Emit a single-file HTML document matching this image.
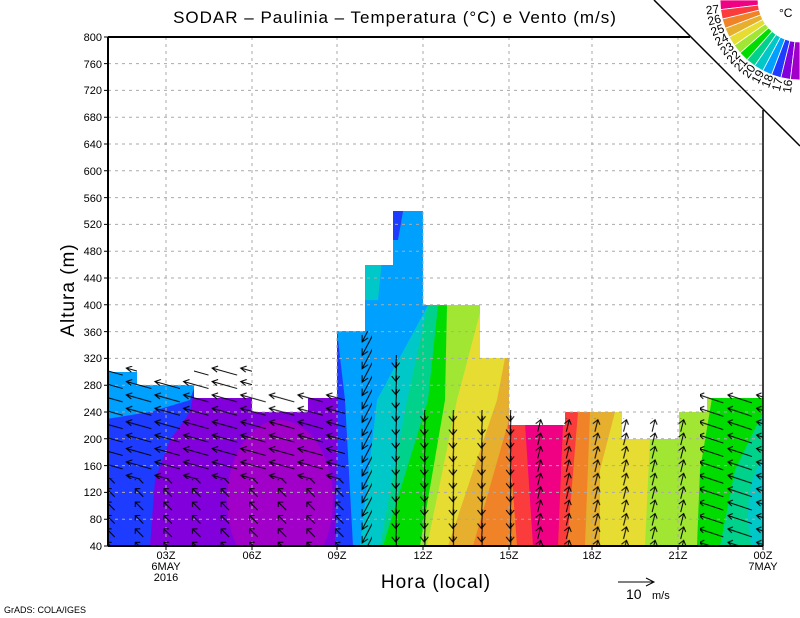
<!DOCTYPE html>
<html><head><meta charset="utf-8"><style>
html,body{margin:0;padding:0;background:#fff;}
svg{display:block;font-family:"Liberation Sans",sans-serif;}
</style></head><body>
<svg width="800" height="618" viewBox="0 0 800 618" xmlns="http://www.w3.org/2000/svg">
<defs>
<clipPath id="cp"><path d="M108,546 L108,372 L137,372 L137,385 L194,385 L194,398 L252,398 L252,412 L308,412 L308,398 L337,398 L337,331 L365,331 L365,265 L393,265 L393,211 L423,211 L423,305 L480,305 L480,358 L509,358 L509,425 L565,425 L565,412 L622,412 L622,439 L679,439 L679,412 L707,412 L707,398 L763,398 L763,546 Z"/></clipPath>
<clipPath id="pc"><rect x="108" y="37" width="655" height="509"/></clipPath>
<pattern id="pL" patternUnits="userSpaceOnUse" x="95.7" y="525.9" width="28.6" height="13.4">
<path d="M27,10 L2,3 M8,1 L2,3 L7,7" stroke="#000" fill="none" stroke-width="1"/></pattern>
<pattern id="pLs" patternUnits="userSpaceOnUse" x="95.7" y="525.9" width="28.6" height="13.4">
<path d="M19,11 L11,3 M11,8 L11,3 L16,3" stroke="#000" fill="none" stroke-width="1"/></pattern>
<pattern id="pDL" patternUnits="userSpaceOnUse" x="95.7" y="525.9" width="28.6" height="13.4">
<g stroke="#000" fill="none" stroke-width="1"><path d="M20,-4 L9,17 M9,10 L9,17 L15,13"/><path d="M20,-17.4 L9,3.6 M9,-3.4 L9,3.6 L15,-0.4"/><path d="M20,9.4 L9,30.4 M9,23.4 L9,30.4 L15,26.4"/></g></pattern>
<pattern id="pD" patternUnits="userSpaceOnUse" x="95.7" y="525.9" width="28.6" height="13.4">
<g stroke="#000" fill="none" stroke-width="1"><path d="M15,-3 L14,16 M10,11 L14,16 L18,11"/><path d="M15,-16.4 L14,2.6 M10,-2.4 L14,2.6 L18,-2.4"/><path d="M15,10.4 L14,29.4 M10,24.4 L14,29.4 L18,24.4"/></g></pattern>
<pattern id="pU" patternUnits="userSpaceOnUse" x="95.7" y="525.9" width="28.6" height="13.4">
<path d="M13,13 L16,1 M11,5 L16,1 L18,6" stroke="#000" fill="none" stroke-width="1"/></pattern>
<pattern id="pUL" patternUnits="userSpaceOnUse" x="95.7" y="525.9" width="28.6" height="13.4">
<path d="M27,11 L3,3 M8,1 L3,3 L7,7" stroke="#000" fill="none" stroke-width="1"/></pattern>
</defs>
<g clip-path="url(#cp)">
<rect x="100" y="200" width="700" height="350" fill="#00d28c"/>
<polygon points="100,546 720,546 735,470 764,410 764,200 100,200" fill="#00dc00"/>
<polygon points="100,546 697,546 700,470 712,398 712,200 100,200" fill="#a0e632"/>
<polygon points="100,546 645,546 650,440 679,412 679,200 100,200" fill="#e6dc32"/>
<polygon points="100,546 600,546 600,470 615,412 615,200 100,200" fill="#e6af2d"/>
<polygon points="100,546 585,546 590,412 590,200 100,200" fill="#f08228"/>
<polygon points="100,546 567,546 578,412 578,200 100,200" fill="#fa3c3c"/>
<polygon points="100,546 558,546 563,423 563,200 100,200" fill="#f00082"/>
<polygon points="100,546 533,546 525,423 525,200 100,200" fill="#fa3c3c"/>
<polygon points="100,546 517,546 508,423 508,200 100,200" fill="#f08228"/>
<polygon points="100,546 473,546 509,420 509,200 100,200" fill="#e6af2d"/>
<polygon points="100,546 448,546 497,400 505,358 509,330 509,200 100,200" fill="#e6dc32"/>
<polygon points="100,546 427,546 457,400 482,305 482,200 100,200" fill="#a0e632"/>
<polygon points="100,546 420,546 445,400 447,305 447,200 100,200" fill="#00dc00"/>
<polygon points="100,546 383,546 428,400 438,305 438,200 100,200" fill="#00d28c"/>
<polygon points="100,546 380,546 407,400 428,305 428,200 100,200" fill="#00c8c8"/>
<polygon points="100,546 360,546 377,400 428,305 428,200 100,200" fill="#00a0ff"/>
<polygon points="100,546 353,546 345,400 337,331 337,200 100,200" fill="#1e3cff"/>
<polygon points="100,546 335,546 338,400 337,200 100,200" fill="#8200dc"/>
<ellipse cx="280" cy="500" rx="53" ry="80" fill="#a000c8"/>
<polygon points="100,546 150,546 155,480 170,440 190,412 195,385 200,200 100,200" fill="#1e3cff"/>
<polygon points="100,360 175,360 195,385 190,400 150,412 100,420" fill="#00a0ff"/>
<polygon points="390,200 405,200 398,240 390,240" fill="#1e3cff"/>
<polygon points="365,260 382,260 378,300 365,300" fill="#00c8c8"/>
<ellipse cx="772" cy="515" rx="24" ry="60" fill="#00c8c8"/>
</g>
<g stroke="#aaa" stroke-width="1" stroke-dasharray="3,4">
<line x1="108" x2="763" y1="519.2" y2="519.2"/><line x1="108" x2="763" y1="492.4" y2="492.4"/><line x1="108" x2="763" y1="465.6" y2="465.6"/><line x1="108" x2="763" y1="438.8" y2="438.8"/><line x1="108" x2="763" y1="412" y2="412"/><line x1="108" x2="763" y1="385.2" y2="385.2"/><line x1="108" x2="763" y1="358.4" y2="358.4"/><line x1="108" x2="763" y1="331.6" y2="331.6"/><line x1="108" x2="763" y1="304.8" y2="304.8"/><line x1="108" x2="763" y1="278" y2="278"/><line x1="108" x2="763" y1="251.2" y2="251.2"/><line x1="108" x2="763" y1="224.4" y2="224.4"/><line x1="108" x2="763" y1="197.6" y2="197.6"/><line x1="108" x2="763" y1="170.8" y2="170.8"/><line x1="108" x2="763" y1="144" y2="144"/><line x1="108" x2="763" y1="117.2" y2="117.2"/><line x1="108" x2="763" y1="90.4" y2="90.4"/><line x1="108" x2="763" y1="63.6" y2="63.6"/>
<line x1="166" x2="166" y1="37" y2="546"/><line x1="252" x2="252" y1="37" y2="546"/><line x1="337" x2="337" y1="37" y2="546"/><line x1="423" x2="423" y1="37" y2="546"/><line x1="509" x2="509" y1="37" y2="546"/><line x1="592" x2="592" y1="37" y2="546"/><line x1="678" x2="678" y1="37" y2="546"/>
</g>
<g clip-path="url(#pc)">
<polygon points="96,479 96,366 137,366 137,379 194,379 194,365 252,365 252,392 345,392 345,479" fill="url(#pL)"/>
<polygon points="96,546 96,479 345,479 345,546" fill="url(#pLs)"/>
<polygon points="345,546 345,331 372,331 372,546" fill="url(#pDL)"/>
<polygon points="372,546 372,355 405,355 405,410 530,410 530,546" fill="url(#pD)"/>
<polygon points="530,546 530,418 700,418 700,546" fill="url(#pU)"/>
<polygon points="700,546 700,392 770,392 770,546" fill="url(#pUL)"/>
</g>
<g stroke="#000" fill="none">
<path d="M108,37 L690,37" stroke-width="2"/>
<path d="M108,37 L108,546" stroke-width="2"/>
<path d="M108,546 L763,546" stroke-width="2"/>
<path d="M763,110 L763,546" stroke-width="1.5"/>
<path d="M654,0 L800,146" stroke-width="1.5"/>
</g>
<g stroke="#000" stroke-width="1">
<path d="M104,546H108M104,519.2H108M104,492.4H108M104,465.6H108M104,438.8H108M104,412H108M104,385.2H108M104,358.4H108M104,331.6H108M104,304.8H108M104,278H108M104,251.2H108M104,224.4H108M104,197.6H108M104,170.8H108M104,144H108M104,117.2H108M104,90.4H108M104,63.6H108M104,37H108"/>
<path d="M166,546V550M252,546V550M337,546V550M423,546V550M509,546V550M592,546V550M678,546V550M763,546V550"/>
</g>
<g font-size="11" text-anchor="end" fill="#000">
<text x="102" y="550">40</text><text x="102" y="523">80</text><text x="102" y="496">120</text><text x="102" y="470">160</text><text x="102" y="443">200</text><text x="102" y="416">240</text><text x="102" y="389">280</text><text x="102" y="362">320</text><text x="102" y="336">360</text><text x="102" y="309">400</text><text x="102" y="282">440</text><text x="102" y="255">480</text><text x="102" y="228">520</text><text x="102" y="202">560</text><text x="102" y="175">600</text><text x="102" y="148">640</text><text x="102" y="121">680</text><text x="102" y="94">720</text><text x="102" y="68">760</text><text x="102" y="41">800</text>
</g>
<g font-size="11" text-anchor="middle" fill="#000">
<text x="166" y="559">03Z</text><text x="166" y="570">6MAY</text><text x="166" y="581">2016</text>
<text x="252" y="559">06Z</text><text x="337" y="559">09Z</text><text x="423" y="559">12Z</text>
<text x="509" y="559">15Z</text><text x="592" y="559">18Z</text><text x="678" y="559">21Z</text>
<text x="763" y="559">00Z</text><text x="763" y="570">7MAY</text>
</g>
<text x="395" y="23" font-size="17" text-anchor="middle" letter-spacing="1">SODAR – Paulinia – Temperatura (°C) e Vento (m/s)</text>
<text x="436" y="588" font-size="19" text-anchor="middle" letter-spacing="1">Hora (local)</text>
<text transform="translate(74,290) rotate(-90)" font-size="19" text-anchor="middle" letter-spacing="1">Altura (m)</text>
<path d="M618,582 L654,582 M646,578 L654,582 L646,586" stroke="#000" fill="none"/>
<text x="626" y="599" font-size="14">10</text><text x="652" y="599" font-size="11">m/s</text>
<text x="4" y="613" font-size="9">GrADS: COLA/IGES</text>
<g stroke="#fff" stroke-width="0.8">
<polygon points="720,0 720.6,9.6 758.3,5.1 758,0" fill="#f00082"/>
<polygon points="720.6,9.6 722.3,19.1 759.2,10.1 758.3,5.1" fill="#fa3c3c"/>
<polygon points="722.3,19.1 725.2,28.4 760.7,14.9 759.2,10.1" fill="#f08228"/>
<polygon points="725.2,28.4 729.2,37.2 762.8,19.5 760.7,14.9" fill="#e6af2d"/>
<polygon points="729.2,37.2 734.2,45.4 765.4,23.9 762.8,19.5" fill="#e6dc32"/>
<polygon points="734.2,45.4 740.1,53 768.6,27.9 765.4,23.9" fill="#a0e632"/>
<polygon points="740.1,53 747,59.9 772.1,31.4 768.6,27.9" fill="#00dc00"/>
<polygon points="747,59.9 754.6,65.8 776.1,34.6 772.1,31.4" fill="#00d28c"/>
<polygon points="754.6,65.8 762.8,70.8 780.5,37.2 776.1,34.6" fill="#00c8c8"/>
<polygon points="762.8,70.8 771.6,74.8 785.1,39.3 780.5,37.2" fill="#00a0ff"/>
<polygon points="771.6,74.8 780.9,77.7 789.9,40.8 785.1,39.3" fill="#1e3cff"/>
<polygon points="780.9,77.7 790.4,79.4 794.9,41.7 789.9,40.8" fill="#8200dc"/>
<polygon points="790.4,79.4 800,80 800,42 794.9,41.7" fill="#a000c8"/>
</g>
<g font-size="12" text-anchor="middle" dominant-baseline="middle" fill="#000">
<text x="712.6" y="10.5" transform="rotate(-6.9 712.6 10.5)">27</text>
<text x="714.5" y="20.8" transform="rotate(-13.8 714.5 20.8)">26</text>
<text x="717.7" y="30.9" transform="rotate(-20.8 717.7 30.9)">25</text>
<text x="722" y="40.4" transform="rotate(-27.7 722 40.4)">24</text>
<text x="727.4" y="49.4" transform="rotate(-34.6 727.4 49.4)">23</text>
<text x="733.9" y="57.7" transform="rotate(-41.5 733.9 57.7)">22</text>
<text x="741.3" y="65.1" transform="rotate(-48.5 741.3 65.1)">21</text>
<text x="749.6" y="71.6" transform="rotate(-55.4 749.6 71.6)">20</text>
<text x="758.6" y="77" transform="rotate(-62.3 758.6 77)">19</text>
<text x="768.2" y="81.3" transform="rotate(-69.2 768.2 81.3)">18</text>
<text x="778.2" y="84.5" transform="rotate(-76.2 778.2 84.5)">17</text>
<text x="788.5" y="86.4" transform="rotate(-83.1 788.5 86.4)">16</text>
</g>
<text x="779" y="17" font-size="12">°C</text>
</svg>
</body></html>
